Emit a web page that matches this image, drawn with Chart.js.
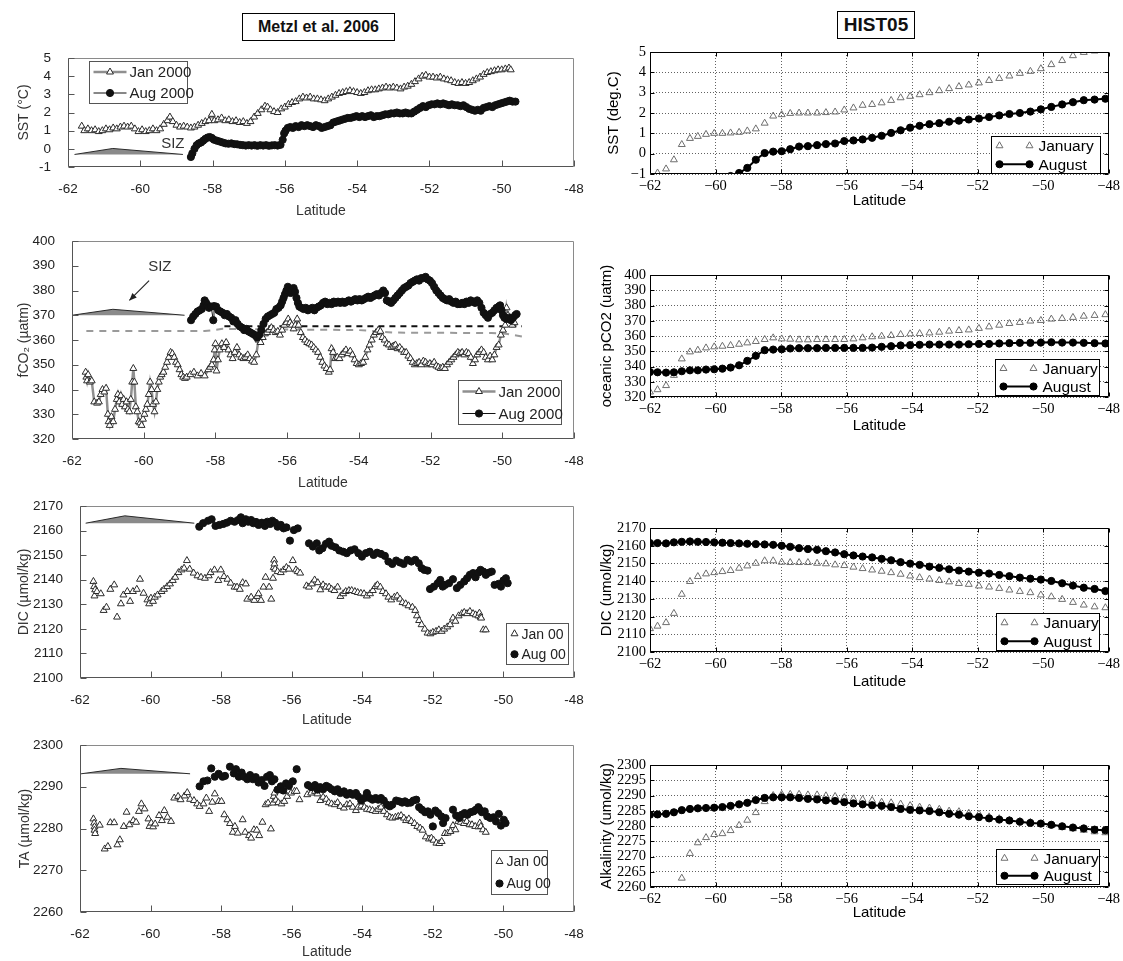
<!DOCTYPE html>
<html>
<head>
<meta charset="utf-8">
<script src="https://cdn.jsdelivr.net/npm/chart.js"></script>
<style>
  html, body { margin: 0; padding: 0; background: #fff; overflow: hidden; }
  #page { position: relative; width: 1123px; height: 961px; }
  #page canvas { position: absolute; }
  .tbox { position: absolute; border: 1px solid #000; background: #fff; color: #111;
          font-family: 'Liberation Sans', Arial, sans-serif; font-weight: bold; text-align: center; }
</style>
</head>
<body>
<div id="page">
  <div class="tbox" style="left:242px;top:13px;width:151px;height:26px;line-height:26px;font-size:16px">Metzl et al. 2006</div>
  <div class="tbox" style="left:837px;top:11px;width:76px;height:26px;line-height:26px;font-size:19px">HIST05</div>
</div>
<script>
// 1. DATA

// model grid latitudes (HIST05), shared by all right hand panels
const modelLat = [-62.00,-61.77,-61.51,-61.27,-61.03,-60.78,-60.54,-60.29,-60.04,-59.79,
  -59.54,-59.28,-59.03,-58.77,-58.50,-58.24,-57.98,-57.72,-57.45,-57.18,
  -56.90,-56.63,-56.35,-56.07,-55.79,-55.51,-55.22,-54.93,-54.64,-54.35,
  -54.06,-53.77,-53.47,-53.17,-52.87,-52.57,-52.27,-51.96,-51.65,-51.34,
  -51.03,-50.71,-50.39,-50.07,-49.75,-49.42,-49.09,-48.76,-48.43,-48.10];

const modelSstJan = [null,-0.95,-0.75,-0.3,0.45,0.75,0.85,0.95,1.0,1.0,
  1.02,1.05,1.12,1.22,1.5,1.85,1.92,1.98,2.0,2.0,
  2.0,2.02,2.05,2.15,2.25,2.38,2.42,2.5,2.62,2.75,
  2.82,2.9,3.0,3.1,3.2,3.3,3.38,3.48,3.6,3.7,
  3.82,3.95,4.05,4.18,4.38,4.58,4.82,4.98,5.05,5.1];
const modelSstAug = [null,null,null,null,null,null,null,null,null,-1.35,
  -1.1,-0.95,-0.7,-0.3,0.03,0.1,0.12,0.22,0.35,0.37,
  0.42,0.47,0.5,0.62,0.65,0.7,0.78,0.88,1.02,1.15,
  1.28,1.37,1.45,1.5,1.57,1.62,1.68,1.73,1.8,1.88,
  1.95,2.0,2.07,2.18,2.3,2.42,2.53,2.63,2.66,2.7];

const modelCo2Jan = [323.3,324.8,327.5,334.2,345,349.6,350.7,352.2,352.9,353.3,
  353.8,354.6,355.5,356.4,357.7,358.8,358.1,357.9,357.5,357.5,
  357.7,357.7,357.7,357.7,358.1,358.8,359.5,359.9,360.3,361,
  361.4,361.6,362,362.5,363.2,363.6,364,365,366,367.1,
  368.2,368.9,369.8,370.2,371.1,371.5,372.2,373,373.5,374];
const modelCo2Aug = [336.4,336.2,336,336.2,336.9,337.5,337.5,338,338.2,338.6,
  339.3,340.8,343.7,347,350.7,351.1,351.3,351.8,352,352,
  352,352.2,352.2,352.2,352.2,352.2,352.4,352.9,353.3,353.8,
  354,354.2,354.4,354.4,354.4,354.4,354.6,354.8,354.8,355.1,
  355.3,355.5,355.5,355.7,355.9,355.7,355.7,355.5,355.3,355.1];

const modelDicJan = [2113.2,2114.6,2116.6,2121.8,2132.6,2139.8,2142.6,2144.1,2144.8,2145.4,
  2146,2147.3,2148.6,2150.1,2151.5,2151.5,2150.7,2150.5,2150.5,2150.5,
  2150.1,2149.8,2149.2,2148.8,2147.9,2147.1,2146.3,2145.6,2144.8,2143.9,
  2142.9,2142,2141.2,2140.4,2139.6,2138.7,2138.2,2137.3,2136.7,2135.9,
  2135,2134.2,2133.5,2132.2,2131.2,2129.7,2128,2126.5,2125.5,2125];
const modelDicAug = [2161.5,2161.5,2161.3,2161.9,2162.2,2162.4,2162.2,2162.1,2161.9,2161.7,
  2161.5,2161.3,2161.1,2160.9,2160.7,2160.5,2160,2159.4,2158.6,2158.1,
  2157.7,2156.9,2156.2,2155.2,2154.5,2153.9,2153.4,2152.6,2151.8,2150.7,
  2149.9,2149.2,2148.2,2147.5,2146.7,2146,2145.4,2144.8,2144.3,2143.5,
  2142.8,2142,2141.4,2140.9,2140.1,2138.8,2137.5,2136.3,2135.6,2134.4];

const modelAlkJan = [null,null,null,null,2262.9,2271,2274.5,2276.2,2277.2,2277.5,
  2278.5,2280.2,2281.9,2284.4,2288,2290,2290.4,2290.4,2290.4,2290.2,
  2290.2,2289.9,2289.7,2289.3,2288.9,2288.7,2288.4,2287.8,2287.6,2287.2,
  2286.7,2286.2,2285.9,2285.5,2284.9,2284.7,2284.2,2283.9,2283,2282.4,
  2281.9,2281.5,2281.2,2280.6,2280.2,2279.5,2279.1,2278.6,2278.1,2277.8];
const modelAlkAug = [2283.7,2283.8,2284,2284.5,2285.2,2285.6,2285.8,2285.9,2286,2286.2,
  2286.6,2287.1,2287.6,2288.5,2289.2,2289.4,2289.4,2289.4,2289.2,2288.9,
  2288.7,2288.4,2288.2,2287.8,2287.4,2287.1,2286.8,2286.6,2286.2,2285.6,
  2285.3,2285.1,2284.9,2284.5,2284,2283.7,2283.2,2282.9,2282.5,2282.1,
  2281.8,2281.4,2281,2280.8,2280.4,2279.9,2279.5,2279.2,2278.8,2278.6];

// observations (Metzl et al. 2006), [latitude, value]
const obsSstJan = [[-61.62,1.25],[-61.55,1.0],[-61.45,1.1],[-61.35,1.0],[-61.25,1.05],[-61.15,0.95],[-61.05,1.0],
  [-60.95,1.1],[-60.85,1.05],[-60.75,1.15],[-60.65,1.1],[-60.55,1.2],[-60.45,1.25],[-60.35,1.2],[-60.25,1.25],
  [-60.15,1.1],[-60.05,0.95],[-59.95,1.05],[-59.85,0.95],[-59.75,1.0],[-59.65,1.1],[-59.55,1.0],[-59.45,1.1],
  [-59.35,1.35],[-59.25,1.55],[-59.18,1.75],[-59.1,1.5],[-59.0,1.3],[-58.9,1.2],[-58.8,1.25],[-58.7,1.2],
  [-58.6,1.15],[-58.5,1.2],[-58.4,1.3],[-58.3,1.4],[-58.2,1.5],[-58.1,1.55],[-58.02,1.9],[-57.95,1.55],
  [-57.85,1.6],[-57.75,1.7],[-57.65,1.55],[-57.55,1.6],[-57.45,1.5],[-57.35,1.55],[-57.25,1.45],[-57.15,1.5],
  [-57.05,1.4],[-56.95,1.5],[-56.85,1.75],[-56.75,1.95],[-56.65,2.15],[-56.55,2.35],[-56.48,2.3],[-56.4,2.15],
  [-56.3,2.05],[-56.2,2.0],[-56.1,2.2],[-56.0,2.3],[-55.9,2.45],[-55.8,2.55],[-55.7,2.6],[-55.6,2.75],
  [-55.5,2.85],[-55.4,2.8],[-55.3,2.85],[-55.2,2.75],[-55.1,2.75],[-55.0,2.7],[-54.9,2.65],[-54.8,2.75],
  [-54.7,2.85],[-54.6,2.95],[-54.5,3.05],[-54.4,3.1],[-54.3,3.15],[-54.2,3.2],[-54.1,3.15],[-54.0,3.1],
  [-53.9,3.05],[-53.8,3.1],[-53.7,3.2],[-53.6,3.25],[-53.5,3.25],[-53.4,3.3],[-53.3,3.35],[-53.2,3.4],
  [-53.1,3.35],[-53.0,3.4],[-52.9,3.35],[-52.8,3.3],[-52.7,3.4],[-52.6,3.45],[-52.5,3.55],[-52.4,3.7],
  [-52.3,3.85],[-52.2,4.0],[-52.1,4.05],[-52.0,3.95],[-51.9,3.95],[-51.8,3.9],[-51.7,3.95],[-51.6,3.85],
  [-51.5,3.8],[-51.4,3.75],[-51.3,3.65],[-51.2,3.6],[-51.1,3.65],[-51.0,3.6],[-50.9,3.65],[-50.8,3.75],
  [-50.7,3.85],[-50.6,3.95],[-50.5,4.1],[-50.4,4.2],[-50.3,4.25],[-50.2,4.3],[-50.1,4.35],[-50.0,4.35],
  [-49.9,4.4],[-49.8,4.45],[-49.75,4.35]];

const obsSstAug = [[-58.6,-0.45],[-58.56,-0.25],[-58.5,0.0],[-58.44,0.2],[-58.38,0.3],[-58.32,0.35],[-58.26,0.45],
  [-58.2,0.55],[-58.14,0.62],[-58.08,0.65],[-58.02,0.6],[-57.96,0.5],[-57.88,0.45],[-57.8,0.4],[-57.72,0.35],
  [-57.64,0.3],[-57.56,0.28],[-57.48,0.3],[-57.4,0.26],[-57.32,0.25],[-57.24,0.22],[-57.16,0.2],[-57.08,0.18],
  [-57.0,0.2],[-56.92,0.18],[-56.84,0.2],[-56.76,0.17],[-56.68,0.2],[-56.6,0.18],[-56.52,0.2],[-56.44,0.17],
  [-56.36,0.19],[-56.28,0.2],[-56.2,0.18],[-56.12,0.22],[-56.06,0.5],[-56.02,0.85],[-55.98,1.0],[-55.92,1.15],
  [-55.85,1.2],[-55.78,1.15],[-55.7,1.25],[-55.62,1.2],[-55.54,1.3],[-55.46,1.25],[-55.38,1.3],[-55.3,1.25],
  [-55.22,1.2],[-55.14,1.3],[-55.06,1.25],[-54.98,1.15],[-54.9,1.2],[-54.82,1.25],[-54.74,1.3],[-54.66,1.45],
  [-54.58,1.5],[-54.5,1.55],[-54.42,1.6],[-54.34,1.65],[-54.26,1.7],[-54.18,1.7],[-54.1,1.75],[-54.02,1.8],
  [-53.94,1.75],[-53.86,1.8],[-53.78,1.75],[-53.7,1.8],[-53.62,1.85],[-53.54,1.75],[-53.46,1.8],[-53.38,1.8],
  [-53.3,1.85],[-53.22,1.9],[-53.14,1.9],[-53.06,1.95],[-52.98,1.95],[-52.9,2.0],[-52.82,1.95],[-52.74,1.95],
  [-52.66,2.0],[-52.58,1.95],[-52.5,1.95],[-52.42,2.05],[-52.34,2.15],[-52.26,2.25],[-52.18,2.35],[-52.1,2.3],
  [-52.02,2.4],[-51.94,2.45],[-51.86,2.45],[-51.78,2.5],[-51.7,2.45],[-51.62,2.5],[-51.54,2.45],[-51.46,2.4],
  [-51.38,2.45],[-51.3,2.4],[-51.22,2.4],[-51.14,2.35],[-51.06,2.4],[-50.98,2.3],[-50.9,2.2],[-50.82,2.15],
  [-50.74,2.1],[-50.66,2.15],[-50.58,2.1],[-50.5,2.25],[-50.42,2.3],[-50.34,2.35],[-50.26,2.3],[-50.18,2.4],
  [-50.1,2.45],[-50.02,2.5],[-49.94,2.55],[-49.86,2.6],[-49.78,2.65],[-49.7,2.6],[-49.62,2.6]];

const obsCo2Jan = [[-61.62,347],[-61.6,345],[-61.58,343.5],[-61.55,346],[-61.5,343],[-61.45,343.5],[-61.38,335],
  [-61.3,334.5],[-61.25,335],[-61.2,338],[-61.15,340],[-61.1,339],[-61.05,340.5],[-61.0,330],[-60.98,327],
  [-60.95,325.5],[-60.9,329],[-60.85,327],[-60.8,332],[-60.75,336],[-60.72,338],[-60.68,335],[-60.64,337.5],
  [-60.6,334],[-60.56,336],[-60.52,333],[-60.48,335],[-60.44,332],[-60.4,331],[-60.36,336],[-60.32,343],
  [-60.29,348.5],[-60.26,343],[-60.22,333],[-60.18,331],[-60.14,327],[-60.1,326.5],[-60.06,325.5],[-60.02,328],
  [-59.98,330],[-59.94,332],[-59.9,334],[-59.86,338],[-59.82,343],[-59.78,340],[-59.74,334],[-59.7,331],
  [-59.66,335],[-59.62,340],[-59.58,343],[-59.54,345],[-59.5,346],[-59.45,347],[-59.4,349],[-59.35,351],
  [-59.3,353],[-59.25,355],[-59.2,354.5],[-59.15,353],[-59.1,351],[-59.05,350],[-59.0,348],[-58.95,346],
  [-58.9,345],[-58.85,344.5],[-58.8,345],[-58.7,346],[-58.6,347],[-58.5,345.5],[-58.4,346.5],[-58.3,345.5],
  [-58.2,348],[-58.15,349],[-58.1,350],[-58.05,352],[-58.02,356],[-58.0,358.5],[-57.97,347.5],[-57.93,352],
  [-57.88,356],[-57.82,358.5],[-57.76,357],[-57.7,359],[-57.64,356],[-57.58,354],[-57.52,352.5],[-57.46,355],
  [-57.4,357],[-57.34,354],[-57.28,353],[-57.22,352.5],[-57.16,353],[-57.1,354],[-57.04,352.5],[-56.98,351.5],
  [-56.92,351],[-56.86,354],[-56.8,360],[-56.74,359],[-56.68,361],[-56.62,362.5],[-56.56,363],[-56.5,364],
  [-56.44,365],[-56.38,364],[-56.32,363],[-56.26,363.5],[-56.2,362],[-56.14,364],[-56.08,366],[-56.02,367],
  [-55.97,368.5],[-55.92,367],[-55.87,366],[-55.82,364.5],[-55.77,366],[-55.72,368.5],[-55.68,366],[-55.62,363],
  [-55.56,361],[-55.5,360],[-55.44,359],[-55.38,358.5],[-55.32,358],[-55.26,357],[-55.2,356],[-55.14,355],
  [-55.08,353],[-55.02,351],[-54.96,349.5],[-54.9,348.5],[-54.84,347],[-54.8,348],[-54.76,356.5],[-54.72,355],
  [-54.66,352.5],[-54.6,353],[-54.54,352.5],[-54.48,354],[-54.42,355],[-54.36,356],[-54.3,354.5],[-54.24,355.5],
  [-54.18,354],[-54.12,352],[-54.06,350.5],[-54.0,350],[-53.94,350.5],[-53.88,351],[-53.82,353],[-53.76,356],
  [-53.7,358],[-53.64,360],[-53.58,362],[-53.52,363],[-53.46,364],[-53.4,363.5],[-53.34,361],[-53.28,360],
  [-53.22,358.5],[-53.16,358],[-53.1,357],[-53.04,357.5],[-52.98,358],[-52.92,356.5],[-52.86,357],[-52.8,356],
  [-52.74,355],[-52.68,355],[-52.62,353.5],[-52.56,352.5],[-52.5,351],[-52.44,350],[-52.38,350.5],[-52.32,351],
  [-52.26,350],[-52.2,351.5],[-52.14,351],[-52.08,350],[-52.02,350.5],[-51.96,350],[-51.9,351],[-51.84,349.5],
  [-51.78,349],[-51.72,348.5],[-51.66,349],[-51.6,348.5],[-51.54,350],[-51.48,351],[-51.42,352],[-51.36,353],
  [-51.3,354],[-51.24,355],[-51.18,354.5],[-51.12,355],[-51.06,354],[-51.0,355],[-50.94,354.5],[-50.88,353],
  [-50.82,350.5],[-50.76,352],[-50.7,354],[-50.64,355],[-50.58,356],[-50.52,355],[-50.46,353],[-50.4,352],
  [-50.34,353.5],[-50.28,352],[-50.22,354],[-50.16,357],[-50.1,358],[-50.04,362],[-49.98,364],[-49.92,366],
  [-49.88,373],[-49.84,370],[-49.78,369],[-49.72,366],[-49.66,367]];

const obsCo2Aug = [[-58.68,368],[-58.62,369.5],[-58.56,370.5],[-58.5,371.5],[-58.44,372],[-58.38,372.5],[-58.33,374],
  [-58.3,376],[-58.26,375],[-58.22,374],[-58.18,373],[-58.12,373.5],[-58.06,368],[-58.04,373.7],[-57.98,373.5],
  [-57.92,372],[-57.86,371.5],[-57.8,371],[-57.74,370],[-57.68,370.5],[-57.62,369.5],[-57.56,369],[-57.5,367.5],
  [-57.44,368],[-57.38,366.5],[-57.32,365.5],[-57.26,365],[-57.2,364],[-57.14,364.5],[-57.08,363.5],[-57.02,363],
  [-56.96,362.5],[-56.9,362],[-56.84,361],[-56.78,362],[-56.72,364],[-56.66,366.5],[-56.6,368.5],[-56.54,369.5],
  [-56.48,370],[-56.42,370.5],[-56.36,371],[-56.3,372.5],[-56.24,373],[-56.18,374],[-56.14,375.5],[-56.1,377],
  [-56.06,378.5],[-56.02,380],[-55.98,381.5],[-55.94,380],[-55.9,379],[-55.86,380],[-55.82,381],[-55.78,379.5],
  [-55.74,377],[-55.7,375],[-55.66,373.5],[-55.6,373],[-55.54,372.5],[-55.48,373],[-55.42,372],[-55.36,372.5],
  [-55.3,373],[-55.24,372],[-55.18,373],[-55.12,373.5],[-55.06,374],[-55.0,375],[-54.94,375.5],[-54.88,374.5],
  [-54.82,375],[-54.76,374.5],[-54.7,375.5],[-54.64,375],[-54.58,375.5],[-54.52,375],[-54.46,375.5],[-54.4,375],
  [-54.34,375.5],[-54.28,376],[-54.22,375.5],[-54.16,376],[-54.1,376.5],[-54.04,376],[-53.98,376.5],[-53.92,376],
  [-53.86,376.5],[-53.8,377],[-53.74,377.5],[-53.68,377],[-53.62,377.5],[-53.56,378],[-53.5,378.5],[-53.44,378],
  [-53.38,379],[-53.32,380],[-53.27,379],[-53.22,376],[-53.16,375.5],[-53.1,375],[-53.04,376],[-52.98,377],
  [-52.92,378],[-52.86,379],[-52.8,380],[-52.74,381],[-52.68,381.5],[-52.62,382],[-52.56,383],[-52.5,383.5],
  [-52.44,384],[-52.38,384.5],[-52.32,384],[-52.26,385],[-52.2,385],[-52.14,385.5],[-52.08,384.5],[-52.02,384],
  [-51.96,383],[-51.9,381.5],[-51.84,380],[-51.78,379],[-51.72,378],[-51.66,377],[-51.6,376.5],[-51.54,376],
  [-51.48,376.5],[-51.42,375.5],[-51.36,375],[-51.3,375.5],[-51.24,374.5],[-51.18,374.5],[-51.12,375],[-51.06,374.5],
  [-51.0,375.5],[-50.94,375],[-50.88,376],[-50.82,375.5],[-50.76,375],[-50.7,376],[-50.64,375],[-50.58,373],
  [-50.52,371],[-50.46,370],[-50.4,369],[-50.34,370.5],[-50.28,371],[-50.22,372],[-50.16,373],[-50.1,373.5],
  [-50.06,374],[-50.02,372],[-49.98,370],[-49.94,369],[-49.88,368.5],[-49.82,369],[-49.76,368],[-49.7,369],
  [-49.64,370],[-49.6,370.5]];

// dashed reference lines in the fCO2 panel
const co2RefGray = [[-61.6,363.6],[-58.3,363.6],[-57.8,364.5],[-54.0,364.0],[-53.0,363.0],[-50.3,362.8],[-49.9,362.5],[-49.4,361.3]];
const co2RefBlack = [[-57.75,365.6],[-49.45,365.6]];

const obsDicJan = [[-61.62,2139.3],[-61.60,2137.2],[-61.57,2135.9],[-61.59,2133.4],[-61.52,2135.2],[-61.41,2134.3],
  [-61.33,2127.5],[-61.25,2128.8],[-61.14,2136.1],[-61.03,2137.9],[-60.95,2124.8],[-60.84,2130.2],[-60.77,2133.8],
  [-60.66,2135.2],[-60.58,2131.2],[-60.50,2135.2],[-60.39,2136.1],[-60.30,2140.2],[-60.20,2134.5],[-60.09,2131.8],
  [-60.04,2130.2],[-59.99,2132.5],[-59.93,2131.2],[-59.88,2132.9],[-59.80,2133.8],[-59.69,2135.2],[-59.62,2136.1],
  [-59.53,2137.2],[-59.45,2138.3],[-59.37,2139.7],[-59.30,2141.0],[-59.21,2142.9],[-59.12,2144.0],[-59.05,2144.7],
  [-58.97,2147.8],[-58.89,2144.3],[-58.78,2142.7],[-58.67,2141.6],[-58.57,2141.0],[-58.46,2140.6],[-58.35,2141.6],
  [-58.30,2142.9],[-58.19,2144.0],[-58.08,2139.7],[-58.01,2144.0],[-57.92,2141.3],[-57.82,2140.2],[-57.73,2138.6],
  [-57.62,2137.0],[-57.55,2137.0],[-57.47,2136.1],[-57.39,2138.8],[-57.30,2138.3],[-57.26,2132.1],[-57.15,2132.9],
  [-57.06,2131.6],[-56.98,2133.2],[-56.94,2134.3],[-56.87,2131.6],[-56.80,2137.0],[-56.74,2141.0],[-56.64,2137.0],
  [-56.58,2132.1],[-56.53,2140.6],[-56.51,2145.0],[-56.50,2148.0],[-56.49,2146.4],[-56.47,2144.3],[-56.40,2143.3],
  [-56.31,2142.9],[-56.23,2144.0],[-56.15,2145.0],[-56.08,2144.3],[-55.97,2147.8],[-55.88,2144.0],[-55.83,2143.3],
  [-55.76,2142.7],[-55.58,2137.5],[-55.51,2137.0],[-55.43,2138.3],[-55.35,2139.9],[-55.26,2138.8],[-55.19,2135.9],
  [-55.11,2137.9],[-55.03,2137.0],[-54.94,2137.0],[-54.87,2136.1],[-54.79,2135.6],[-54.70,2137.0],[-54.62,2133.2],
  [-54.54,2134.3],[-54.47,2135.2],[-54.38,2135.6],[-54.30,2135.6],[-54.21,2135.2],[-54.13,2134.8],[-54.04,2134.5],
  [-53.95,2134.3],[-53.87,2133.4],[-53.78,2134.3],[-53.70,2135.6],[-53.63,2137.2],[-53.57,2137.9],[-53.49,2137.0],
  [-53.42,2135.2],[-53.33,2134.3],[-53.26,2132.9],[-53.18,2131.8],[-53.09,2132.9],[-53.01,2133.4],[-52.93,2132.1],
  [-52.86,2130.7],[-52.77,2130.2],[-52.69,2129.4],[-52.58,2128.8],[-52.50,2127.5],[-52.45,2125.3],[-52.39,2123.4],
  [-52.32,2121.7],[-52.23,2119.9],[-52.15,2118.3],[-52.07,2118.0],[-52.00,2118.6],[-51.91,2119.0],[-51.83,2119.6],
  [-51.75,2119.0],[-51.68,2119.9],[-51.59,2120.8],[-51.51,2121.7],[-51.43,2124.4],[-51.36,2123.1],[-51.27,2125.3],
  [-51.18,2126.2],[-51.11,2126.7],[-51.03,2126.2],[-50.95,2127.1],[-50.86,2126.2],[-50.79,2125.7],[-50.71,2125.3],
  [-50.68,2126.4],[-50.65,2124.8],[-50.63,2124.4],[-50.57,2119.6],[-50.50,2119.6]];

const obsDicAug = [[-58.62,2161.6],[-58.51,2163.0],[-58.37,2164.0],[-58.27,2164.6],[-58.16,2161.9],[-58.05,2162.3],
  [-57.94,2162.7],[-57.84,2163.2],[-57.73,2164.0],[-57.62,2163.6],[-57.52,2164.3],[-57.44,2165.4],[-57.39,2163.0],
  [-57.30,2164.6],[-57.23,2163.6],[-57.15,2164.3],[-57.09,2163.0],[-57.01,2163.5],[-56.94,2162.3],[-56.85,2163.2],
  [-56.76,2161.9],[-56.69,2163.6],[-56.61,2162.7],[-56.55,2164.0],[-56.47,2163.2],[-56.40,2161.6],[-56.31,2162.3],
  [-56.23,2160.9],[-56.15,2161.3],[-56.05,2155.9],[-55.94,2160.2],[-55.83,2160.9],[-55.51,2154.8],[-55.40,2153.5],
  [-55.29,2154.8],[-55.22,2151.9],[-55.13,2152.8],[-55.03,2154.6],[-54.94,2155.5],[-54.87,2153.8],[-54.76,2153.2],
  [-54.65,2151.9],[-54.54,2151.4],[-54.44,2150.8],[-54.33,2151.9],[-54.22,2152.4],[-54.11,2150.8],[-54.01,2149.4],
  [-53.90,2150.8],[-53.79,2151.4],[-53.68,2150.1],[-53.58,2151.0],[-53.47,2150.5],[-53.36,2149.7],[-53.26,2147.4],
  [-53.15,2146.4],[-53.04,2147.8],[-52.93,2147.0],[-52.83,2146.4],[-52.72,2148.1],[-52.61,2147.4],[-52.50,2148.1],
  [-52.40,2146.7],[-52.32,2144.7],[-52.24,2144.0],[-52.15,2143.7],[-52.08,2136.2],[-51.97,2137.2],[-51.86,2138.6],
  [-51.79,2139.9],[-51.72,2137.2],[-51.65,2137.9],[-51.54,2138.6],[-51.43,2140.2],[-51.32,2136.6],[-51.22,2137.9],
  [-51.11,2139.3],[-51.03,2140.6],[-50.95,2142.0],[-50.86,2142.7],[-50.79,2141.0],[-50.71,2142.9],[-50.65,2144.0],
  [-50.57,2143.3],[-50.50,2142.0],[-50.41,2142.9],[-50.33,2143.3],[-50.25,2137.9],[-50.14,2138.3],[-50.07,2137.2],
  [-50.00,2139.7],[-49.93,2140.6],[-49.88,2138.6]];

const obsTaJan = [[-61.62,2282.3],[-61.60,2281.3],[-61.59,2280.4],[-61.59,2279.6],[-61.57,2278.8],[-61.44,2280.8],
  [-61.30,2275.1],[-61.21,2275.7],[-61.14,2281.4],[-61.03,2281.4],[-60.94,2276.1],[-60.87,2277.3],[-60.76,2280.5],
  [-60.68,2283.9],[-60.60,2280.9],[-60.49,2281.9],[-60.41,2281.5],[-60.33,2284.1],[-60.26,2285.9],[-60.17,2284.7],
  [-60.06,2282.3],[-60.03,2280.5],[-59.98,2281.3],[-59.93,2280.4],[-59.87,2281.1],[-59.76,2283.1],[-59.68,2281.9],
  [-59.61,2284.3],[-59.52,2282.7],[-59.42,2281.7],[-59.33,2287.3],[-59.22,2287.7],[-59.15,2286.9],[-59.04,2287.8],
  [-58.96,2288.6],[-58.88,2287.0],[-58.77,2286.7],[-58.68,2285.9],[-58.61,2285.3],[-58.50,2285.9],[-58.42,2287.3],
  [-58.34,2284.1],[-58.25,2286.3],[-58.18,2288.3],[-58.07,2286.5],[-57.99,2286.5],[-57.91,2283.3],[-57.82,2282.1],
  [-57.75,2281.2],[-57.67,2279.1],[-57.61,2280.5],[-57.53,2278.9],[-57.39,2282.1],[-57.32,2279.1],[-57.21,2278.3],
  [-57.15,2277.7],[-57.07,2279.7],[-56.99,2279.6],[-56.92,2278.3],[-56.83,2281.5],[-56.74,2285.7],[-56.67,2286.1],
  [-56.59,2279.9],[-56.53,2286.1],[-56.51,2287.7],[-56.49,2288.5],[-56.45,2286.8],[-56.38,2286.2],[-56.29,2285.9],
  [-56.21,2286.5],[-56.13,2287.7],[-56.02,2288.5],[-55.92,2288.9],[-55.86,2288.9],[-55.78,2286.9],[-55.56,2288.1],
  [-55.45,2288.5],[-55.34,2288.9],[-55.27,2288.3],[-55.19,2286.7],[-55.11,2287.5],[-55.02,2287.0],[-54.95,2286.2],
  [-54.87,2285.9],[-54.78,2285.7],[-54.70,2286.2],[-54.62,2285.3],[-54.52,2284.9],[-54.44,2285.7],[-54.35,2285.9],
  [-54.27,2285.1],[-54.18,2284.3],[-54.12,2285.1],[-54.03,2285.4],[-53.94,2285.1],[-53.87,2284.6],[-53.79,2284.5],
  [-53.71,2284.3],[-53.62,2284.1],[-53.55,2284.6],[-53.47,2285.1],[-53.39,2284.1],[-53.30,2283.3],[-53.22,2282.7],
  [-53.15,2282.5],[-53.06,2282.7],[-52.98,2282.9],[-52.90,2283.1],[-52.82,2282.5],[-52.76,2281.9],[-52.68,2282.3],
  [-52.61,2281.7],[-52.52,2281.2],[-52.44,2280.5],[-52.36,2280.1],[-52.29,2279.6],[-52.20,2278.0],[-52.11,2277.5],
  [-52.04,2277.7],[-51.98,2277.2],[-51.90,2276.5],[-51.82,2276.4],[-51.75,2276.9],[-51.66,2278.8],[-51.58,2278.9],
  [-51.50,2279.3],[-51.43,2280.7],[-51.36,2279.7],[-51.28,2281.7],[-51.21,2281.5],[-51.12,2281.2],[-51.04,2281.7],
  [-50.96,2280.9],[-50.89,2280.9],[-50.80,2280.5],[-50.71,2280.4],[-50.67,2281.3],[-50.64,2280.5],[-50.58,2279.7],
  [-50.50,2279.1]];

const obsTaAug = [[-58.61,2290.1],[-58.50,2291.3],[-58.39,2291.5],[-58.28,2294.4],[-58.18,2292.4],[-58.07,2293.1],
  [-57.96,2292.4],[-57.89,2292.6],[-57.75,2294.8],[-57.64,2293.2],[-57.58,2294.2],[-57.50,2292.4],[-57.42,2293.4],
  [-57.35,2292.4],[-57.26,2291.8],[-57.18,2292.8],[-57.10,2291.8],[-57.02,2292.3],[-56.94,2291.0],[-56.85,2291.6],
  [-56.77,2290.2],[-56.70,2292.4],[-56.62,2292.8],[-56.56,2291.3],[-56.49,2291.8],[-56.40,2289.3],[-56.31,2290.1],
  [-56.24,2289.1],[-56.16,2290.8],[-56.08,2290.2],[-55.97,2291.3],[-55.86,2294.2],[-55.54,2290.4],[-55.45,2289.9],
  [-55.34,2290.4],[-55.27,2289.3],[-55.19,2289.9],[-55.11,2289.4],[-55.02,2290.2],[-54.95,2289.9],[-54.87,2289.4],
  [-54.78,2288.9],[-54.70,2289.4],[-54.62,2288.5],[-54.52,2288.9],[-54.44,2288.1],[-54.35,2288.5],[-54.27,2288.1],
  [-54.18,2288.5],[-54.12,2287.7],[-54.03,2286.7],[-53.94,2287.3],[-53.87,2288.5],[-53.79,2287.3],[-53.71,2286.9],
  [-53.62,2287.3],[-53.55,2286.9],[-53.47,2287.3],[-53.39,2286.7],[-53.30,2285.7],[-53.22,2285.3],[-53.15,2285.7],
  [-53.04,2286.7],[-52.95,2286.5],[-52.87,2286.2],[-52.79,2286.5],[-52.72,2286.1],[-52.63,2286.2],[-52.55,2286.7],
  [-52.47,2286.9],[-52.39,2285.1],[-52.31,2284.5],[-52.22,2283.9],[-52.14,2284.1],[-52.07,2283.3],[-52.00,2280.5],
  [-51.93,2284.3],[-51.85,2283.7],[-51.76,2282.9],[-51.71,2281.3],[-51.64,2282.5],[-51.43,2284.5],[-51.34,2283.1],
  [-51.25,2282.5],[-51.18,2283.3],[-51.10,2283.7],[-51.02,2283.3],[-50.93,2283.9],[-50.85,2284.1],[-50.78,2284.5],
  [-50.71,2285.1],[-50.67,2284.5],[-50.61,2283.9],[-50.53,2284.1],[-50.46,2282.9],[-50.37,2282.5],[-50.28,2282.7],
  [-50.21,2281.7],[-50.13,2283.5],[-50.07,2280.7],[-49.99,2282.1],[-49.94,2281.3]];

// sea-ice-zone wedge outlines, [latitude, value]
const sizSst = [[-61.82,-0.31],[-60.76,0.02],[-58.82,-0.31]];
const sizCo2 = [[-62.0,370.0],[-60.86,372.4],[-58.86,370.0]];
const sizDic = [[-61.84,2163.0],[-60.73,2166.0],[-58.76,2163.0]];
const sizTa = [[-61.97,2293.1],[-60.84,2294.4],[-58.88,2293.1]];

// 2. HELPERS

const SANS = "'Liberation Sans', Arial, sans-serif";
const SERIF = "'Liberation Serif', 'Times New Roman', serif";
const pts = a => a.map(p => ({ x: p[0], y: p[1] }));
const onGrid = vals => modelLat.map((x, i) => ({ x, y: vals[i] }));

function drawMark(ctx, ds, x, y) {
  const r = ds.pointRadius;
  ctx.beginPath();
  if (ds.pointStyle === 'triangle') {
    for (let k = 0; k < 3; k++) {
      const a = k * 2 * Math.PI / 3;
      const px = x + Math.sin(a) * r, py = y - Math.cos(a) * r;
      if (k) ctx.lineTo(px, py); else ctx.moveTo(px, py);
    }
    ctx.closePath();
  } else {
    ctx.arc(x, y, r, 0, 2 * Math.PI);
  }
  ctx.fillStyle = ds.pointBackgroundColor;
  ctx.fill();
  ctx.lineWidth = ds.pointBorderWidth;
  ctx.strokeStyle = ds.pointBorderColor;
  ctx.stroke();
}

// frame, inner ticks and notes (SIZ label, arrow)
const framePlugin = {
  id: 'frame',
  afterDatasetsDraw(chart, args, o) {
    const { ctx, chartArea: a } = chart;
    const xs = chart.scales.x, ys = chart.scales.y;
    const L = Math.round(a.left) + 0.5, R = Math.round(a.right) - 0.5;
    const T = Math.round(a.top) + 0.5, B = Math.round(a.bottom) - 0.5;
    ctx.save();
    ctx.lineWidth = 1;
    const seg = (x1, y1, x2, y2, c) => {
      ctx.strokeStyle = c; ctx.beginPath(); ctx.moveTo(x1, y1); ctx.lineTo(x2, y2); ctx.stroke();
    };
    if (o.kind === 'mpl') {
      seg(L, T, R, T, '#000'); seg(R, T, R, B, '#000'); seg(L, B, R, B, '#000'); seg(L, T, L, B, '#000');
      xs.ticks.forEach(t => {
        const px = Math.round(xs.getPixelForValue(t.value)) + 0.5;
        seg(px, B, px, B - 4, '#000'); seg(px, T, px, T + 4, '#000');
      });
      ys.ticks.forEach(t => {
        const py = Math.round(ys.getPixelForValue(t.value)) + 0.5;
        seg(L, py, L + 4, py, '#000'); seg(R, py, R - 4, py, '#000');
      });
    } else {
      seg(L, T, R, T, '#8a8a8a'); seg(R, T, R, B, '#8a8a8a');
      seg(L, B, R, B, '#555'); seg(L, T, L, B, '#555');
      xs.ticks.forEach(t => {
        const px = Math.round(xs.getPixelForValue(t.value)) + 0.5;
        seg(px, B, px, B - 6, '#555');
      });
      ys.ticks.forEach(t => {
        const py = Math.round(ys.getPixelForValue(t.value)) + 0.5;
        seg(L, py, L + 6, py, '#555');
      });
    }
    (o.notes || []).forEach(n => {
      ctx.fillStyle = '#333'; ctx.font = '15px ' + SANS;
      ctx.textAlign = 'center'; ctx.textBaseline = 'middle';
      ctx.fillText(n.text, xs.getPixelForValue(n.x), ys.getPixelForValue(n.y));
    });
    (o.arrows || []).forEach(ar => {
      const x1 = xs.getPixelForValue(ar.from[0]), y1 = ys.getPixelForValue(ar.from[1]);
      const x2 = xs.getPixelForValue(ar.to[0]), y2 = ys.getPixelForValue(ar.to[1]);
      ctx.strokeStyle = '#222'; ctx.fillStyle = '#222'; ctx.lineWidth = 1.2;
      ctx.beginPath(); ctx.moveTo(x1, y1); ctx.lineTo(x2, y2); ctx.stroke();
      const ang = Math.atan2(y2 - y1, x2 - x1);
      ctx.beginPath();
      ctx.moveTo(x2, y2);
      ctx.lineTo(x2 - 8 * Math.cos(ang - 0.4), y2 - 8 * Math.sin(ang - 0.4));
      ctx.lineTo(x2 - 8 * Math.cos(ang + 0.4), y2 - 8 * Math.sin(ang + 0.4));
      ctx.closePath(); ctx.fill();
    });
    ctx.restore();
  }
};

// legend drawn inside the plot area, box given as fractions of the chart area
const boxLegend = {
  id: 'boxLegend',
  afterDraw(chart, args, o) {
    if (!o.items) return;
    const { ctx, chartArea: a } = chart;
    const L = Math.round(a.left + o.box[0] * a.width) + 0.5;
    const R = Math.round(a.left + o.box[1] * a.width) + 0.5;
    const T = Math.round(a.top + o.box[2] * a.height) + 0.5;
    const B = Math.round(a.top + o.box[3] * a.height) + 0.5;
    ctx.save();
    ctx.fillStyle = '#fff';
    ctx.fillRect(L, T, R - L, B - T);
    ctx.strokeStyle = o.border; ctx.lineWidth = 1;
    ctx.strokeRect(L, T, R - L, B - T);
    const n = o.items.length;
    o.items.forEach((it, i) => {
      const ds = chart.data.datasets[it.ds];
      const y = T + (B - T) * (i + 0.5) / n;
      const x0 = L + o.sample[0], x1 = L + o.sample[1];
      if (it.line) {
        ctx.strokeStyle = ds.borderColor; ctx.lineWidth = ds.borderWidth;
        ctx.beginPath(); ctx.moveTo(x0, y); ctx.lineTo(x1, y); ctx.stroke();
      }
      const marks = it.ends ? [x0, x1] : [(x0 + x1) / 2];
      marks.forEach(mx => drawMark(ctx, ds, mx, y));
      ctx.fillStyle = o.color; ctx.font = o.font;
      ctx.textAlign = 'left'; ctx.textBaseline = 'middle';
      ctx.fillText(ds.label, L + o.textX, y + 1);
    });
    ctx.restore();
  }
};

// 3. PANELS

const page = document.getElementById('page');
const PAD_TOP = 20;

function panel(p) {
  const mpl = p.kind === 'mpl';
  const titleSize = mpl ? 15 : 14;
  const lh = titleSize * 1.2;
  const cl = Math.round(p.yTitleX - 12);
  const ct = p.box.t - PAD_TOP;
  const cb = p.xTitleY + 10;
  const padR = p.padR || 20;
  const yW = p.box.l - cl;
  const xH = cb - p.box.b;

  const cv = document.createElement('canvas');
  cv.width = p.box.r + padR - cl;
  cv.height = cb - ct;
  cv.style.left = cl + 'px';
  cv.style.top = ct + 'px';
  page.appendChild(cv);

  const tickFont = mpl ? { family: SERIF, size: 14.5 } : { family: SANS, size: 13.5 };
  const fmt = v => mpl ? String(v).replace('-', '\u2212') : String(v);
  const gridOpt = mpl ? { display: true, color: '#3a3a3a', lineWidth: 0.8, drawTicks: false }
                      : { display: false };
  const borderOpt = mpl ? { display: false, dash: [1, 2] } : { display: false };
  const titleColor = mpl ? '#000' : '#333';

  new Chart(cv, {
    type: 'scatter',
    data: { datasets: p.datasets },
    options: {
      responsive: false,
      animation: false,
      devicePixelRatio: 1,
      layout: { padding: { top: PAD_TOP, right: padR, left: 0, bottom: 0 } },
      elements: { line: { tension: 0 } },
      plugins: {
        legend: { display: false },
        tooltip: { enabled: false },
        frame: { kind: p.kind, notes: p.notes, arrows: p.arrows },
        boxLegend: p.legend
      },
      scales: {
        x: {
          type: 'linear', min: -62, max: -48,
          ticks: { stepSize: 2, autoSkip: false, padding: mpl ? 3 : 6, font: tickFont,
                   color: mpl ? '#000' : '#222', callback: fmt, maxRotation: 0 },
          grid: gridOpt, border: borderOpt,
          title: { display: true, text: 'Latitude', color: titleColor, font: { family: SANS, size: titleSize },
                   padding: { top: 0, bottom: 10 - lh / 2 } },
          afterFit: s => { s.height = xH; }
        },
        y: {
          type: 'linear', min: p.yMin, max: p.yMax,
          ticks: { stepSize: p.yStep, autoSkip: false, padding: mpl ? 4 : 9, font: tickFont,
                   color: mpl ? '#000' : '#222', callback: fmt },
          grid: gridOpt, border: borderOpt,
          title: { display: true, text: p.yTitle, color: titleColor, font: { family: SANS, size: titleSize },
                   padding: { top: 12 - lh / 2, bottom: 0 } },
          afterFit: s => { s.width = yW; }
        }
      }
    },
    plugins: [framePlugin, boxLegend]
  });
}

// styles of the series
const janObs = (label, data, line) => ({
  label, data: pts(data), showLine: line, borderColor: '#8f8f8f', borderWidth: line ? 2.5 : 1,
  pointStyle: 'triangle', pointRadius: 4, pointBackgroundColor: '#fff', pointBorderColor: '#2b2b2b',
  pointBorderWidth: 1, order: 1, clip: 0
});
const augObs = (label, data, line) => ({
  label, data: pts(data), showLine: line, borderColor: '#111', borderWidth: 1,
  pointStyle: 'circle', pointRadius: 3.6, pointBackgroundColor: '#111', pointBorderColor: '#111',
  pointBorderWidth: 1, order: 0, clip: 0
});
const siz = data => ({
  label: 'SIZ', data: pts(data), showLine: true, fill: { value: data[0][1] },
  backgroundColor: '#8a8a8a', borderColor: '#2a2a2a', borderWidth: 1, pointRadius: 0, order: 3
});
const janModel = vals => ({
  label: 'January', data: onGrid(vals), showLine: false, borderColor: '#6e6e6e',
  pointStyle: 'triangle', pointRadius: 4, pointBackgroundColor: 'rgba(255,255,255,0)',
  pointBorderColor: '#6e6e6e', pointBorderWidth: 1, order: 1, clip: 0
});
const augModel = vals => ({
  label: 'August', data: onGrid(vals), showLine: true, spanGaps: false, borderColor: '#000', borderWidth: 2,
  pointStyle: 'circle', pointRadius: 3.6, pointBackgroundColor: '#000', pointBorderColor: '#000',
  pointBorderWidth: 1, order: 0, clip: 0
});

const obsLegendLines = { border: '#555', color: '#222', font: '15px ' + SANS, sample: [4, 37], textX: 40,
  items: [{ ds: 0, line: true }, { ds: 1, line: true }] };
const obsLegendDots = { border: '#555', color: '#222', font: '14px ' + SANS, sample: [8, 8], textX: 15,
  items: [{ ds: 0 }, { ds: 1 }] };
const modelLegend = box => ({ box, border: '#000', color: '#000', font: '15.5px ' + SANS, sample: [8, 38], textX: 47,
  items: [{ ds: 0, ends: true }, { ds: 1, ends: true, line: true }] });

// left column: observations
panel({
  kind: 'excel', box: { l: 68, r: 574, t: 58, b: 167 }, yTitleX: 24, xTitleY: 211,
  yMin: -1, yMax: 5, yStep: 1, yTitle: 'SST (°C)',
  datasets: [janObs('Jan 2000', obsSstJan, true), augObs('Aug 2000', obsSstAug, true), siz(sizSst)],
  notes: [{ x: -59.1, y: 0.3, text: 'SIZ' }],
  legend: Object.assign({ box: [0.041, 0.236, 0.03, 0.41] }, obsLegendLines)
});
panel({
  kind: 'excel', box: { l: 72, r: 574, t: 241, b: 439 }, yTitleX: 24, xTitleY: 483,
  yMin: 320, yMax: 400, yStep: 10, yTitle: 'fCO\u2082 (µatm)',
  datasets: [janObs('Jan 2000', obsCo2Jan, true), augObs('Aug 2000', obsCo2Aug, true), siz(sizCo2),
    { label: 'atm Jan', data: pts(co2RefGray), showLine: true, borderColor: '#9a9a9a', borderWidth: 2,
      borderDash: [7, 6], pointRadius: 0, order: 4 },
    { label: 'atm Aug', data: pts(co2RefBlack), showLine: true, borderColor: '#111', borderWidth: 2,
      borderDash: [6, 5], pointRadius: 0, order: 4 }],
  notes: [{ x: -59.55, y: 389.5, text: 'SIZ' }],
  arrows: [{ from: [-59.85, 384], to: [-60.4, 376] }],
  legend: Object.assign({ box: [0.768, 0.975, 0.70, 0.925] }, obsLegendLines)
});
panel({
  kind: 'excel', box: { l: 80, r: 574, t: 506, b: 678 }, yTitleX: 24, xTitleY: 720,
  yMin: 2100, yMax: 2170, yStep: 10, yTitle: 'DIC (µmol/kg)',
  datasets: [janObs('Jan 00', obsDicJan, false), augObs('Aug 00', obsDicAug, false), siz(sizDic)],
  legend: Object.assign({ box: [0.862, 0.988, 0.68, 0.92] }, obsLegendDots)
});
panel({
  kind: 'excel', box: { l: 80, r: 574, t: 745, b: 912 }, yTitleX: 25, xTitleY: 952,
  yMin: 2260, yMax: 2300, yStep: 10, yTitle: 'TA (µmol/kg)',
  datasets: [janObs('Jan 00', obsTaJan, false), augObs('Aug 00', obsTaAug, false), siz(sizTa)],
  legend: Object.assign({ box: [0.832, 0.946, 0.63, 0.89] }, obsLegendDots)
});

// right column: HIST05 model
panel({
  kind: 'mpl', box: { l: 650, r: 1112, t: 52, b: 174 }, yTitleX: 614, xTitleY: 201, padR: 11,
  yMin: -1, yMax: 5, yStep: 1, yTitle: 'SST (deg.C)',
  datasets: [janModel(modelSstJan), augModel(modelSstAug)],
  legend: modelLegend([0.743, 0.981, 0.689, 0.989])
});
panel({
  kind: 'mpl', box: { l: 650, r: 1112, t: 275, b: 397 }, yTitleX: 607, xTitleY: 426, padR: 11,
  yMin: 320, yMax: 400, yStep: 10, yTitle: 'oceanic pCO2 (uatm)',
  datasets: [janModel(modelCo2Jan), augModel(modelCo2Aug)],
  legend: modelLegend([0.752, 0.979, 0.685, 0.986])
});
panel({
  kind: 'mpl', box: { l: 650, r: 1112, t: 528, b: 652 }, yTitleX: 607, xTitleY: 682, padR: 11,
  yMin: 2100, yMax: 2170, yStep: 10, yTitle: 'DIC (umol/kg)',
  datasets: [janModel(modelDicJan), augModel(modelDicAug)],
  legend: modelLegend([0.755, 0.979, 0.684, 0.981])
});
panel({
  kind: 'mpl', box: { l: 650, r: 1112, t: 765, b: 887 }, yTitleX: 607, xTitleY: 913, padR: 11,
  yMin: 2260, yMax: 2300, yStep: 5, yTitle: 'Alkalinity (umol/kg)',
  datasets: [janModel(modelAlkJan), augModel(modelAlkAug)],
  legend: modelLegend([0.755, 0.980, 0.685, 0.978])
});
</script>
</body>
</html>
